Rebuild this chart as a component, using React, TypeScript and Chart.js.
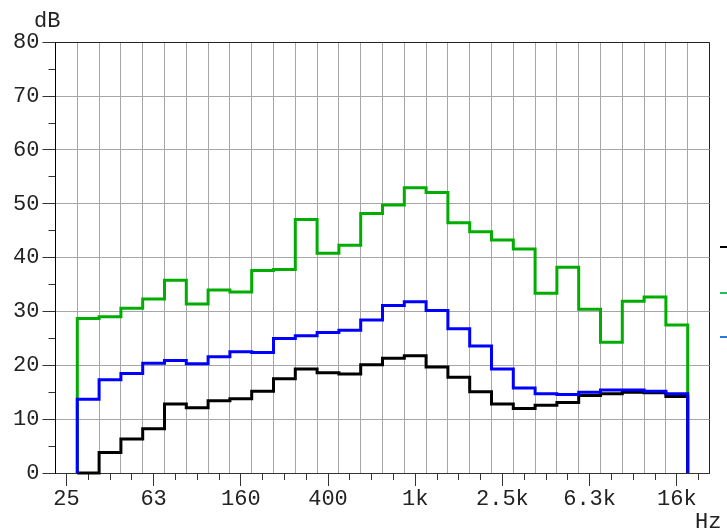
import React, { useEffect, useRef } from 'react';
import { Chart, registerables } from 'chart.js';

Chart.register(...registerables);

// One-third-octave band centre frequencies (x categories)
const bandLabels = ['25', '31.5', '40', '50', '63', '80', '100', '125', '160', '200', '250', '315', '400', '500', '630', '800', '1k', '1.25k', '1.6k', '2k', '2.5k', '3.15k', '4k', '5k', '6.3k', '8k', '10k', '12.5k', '16k', '20k'];
const xTickLabels = ['25', '63', '160', '400', '1k', '2.5k', '6.3k', '16k'];
const yMajorTicks = [0, 10, 20, 30, 40, 50, 60, 70, 80];
const yMinorTicks = [5, 15, 25, 35, 45, 55, 65, 75];
const firstBand = '31.5';

// Levels (dB) for bands 31.5 Hz .. 16 kHz
const greenValues = [28.7, 29.0, 30.6, 32.3, 35.8, 31.4, 34.0, 33.6, 37.6, 37.8, 47.1, 40.8, 42.3, 48.2, 49.8, 53.0, 52.1, 46.5, 44.8, 43.3, 41.6, 33.4, 38.2, 30.4, 24.3, 31.9, 32.7, 27.5];
const blueValues = [13.7, 17.3, 18.5, 20.4, 20.9, 20.3, 21.6, 22.5, 22.4, 25.0, 25.5, 26.1, 26.5, 28.4, 31.1, 31.8, 30.2, 26.8, 23.6, 19.3, 15.8, 14.7, 14.6, 15.0, 15.4, 15.4, 15.2, 14.7];
const blackValues = [0, 3.8, 6.3, 8.2, 12.8, 12.1, 13.4, 13.8, 15.2, 17.5, 19.3, 18.6, 18.4, 20.1, 21.3, 21.8, 19.7, 17.8, 15.1, 12.8, 12.0, 12.6, 13.1, 14.4, 14.7, 15.0, 14.9, 14.2];

const seriesNames = ['Series 1', 'Series 2', 'Series 3'];

const FONT = "'Liberation Mono', 'Courier New', monospace";

function stepPoints(values: number[]) {
  const start = bandLabels.indexOf(firstBand);
  const pts: { x: number; y: number }[] = [{ x: start - 0.5, y: 0 }];
  values.forEach((v, i) => {
    pts.push({ x: start + i - 0.5, y: v });
    pts.push({ x: start + i + 0.5, y: v });
  });
  pts.push({ x: start + values.length - 0.5, y: 0 });
  return pts;
}

const decorPlugin = {
  id: 'decor',
  afterDraw(chart: any) {
    const ctx = chart.ctx;
    ctx.save();
    ctx.fillStyle = '#222';
    ctx.font = `22px ${FONT}`;
    ctx.textBaseline = 'alphabetic';
    ctx.textAlign = 'left';
    ctx.fillText('dB', 34, 27);
    ctx.fillText('Hz', 695, 528);
    const legend = [
      { color: '#000000', y: 247, name: seriesNames[0] },
      { color: '#22c05a', y: 293, name: seriesNames[1] },
      { color: '#2a7ad6', y: 337, name: seriesNames[2] },
    ];
    legend.forEach((l) => {
      ctx.strokeStyle = l.color;
      ctx.lineWidth = 2;
      ctx.beginPath();
      ctx.moveTo(720, l.y);
      ctx.lineTo(740, l.y);
      ctx.stroke();
      ctx.fillStyle = '#222';
      ctx.fillText(l.name, 745, l.y + 7);
    });
    ctx.restore();
  },
};

export default function App() {
  const ref = useRef<HTMLCanvasElement>(null);
  useEffect(() => {
    const xMin = -0.5;
    const xMax = bandLabels.length - 0.5;
    const edgeTicks = bandLabels.map((_, i) => i - 0.5).concat([xMax]);
    const centerTicks = bandLabels.map((_, i) => i);
    const labelTicks = xTickLabels.map((l) => bandLabels.indexOf(l));
    const chart = new Chart(ref.current!, {
      type: 'line',
      data: {
        datasets: [
          { label: seriesNames[2], data: stepPoints(blueValues), borderColor: '#0000ff', borderWidth: 3, pointRadius: 0, fill: false, clip: false as any },
          { label: seriesNames[0], data: stepPoints(blackValues), borderColor: '#000000', borderWidth: 3, pointRadius: 0, fill: false, clip: false as any },
          { label: seriesNames[1], data: stepPoints(greenValues), borderColor: '#00ad00', borderWidth: 3, pointRadius: 0, fill: false, clip: false as any },
        ],
      },
      options: {
        responsive: false,
        animation: false,
        devicePixelRatio: 1,
        layout: { padding: { top: 42.3, right: 17.5, left: 0, bottom: 0 } },
        plugins: { legend: { display: false }, tooltip: { enabled: false } },
        elements: { line: { tension: 0, borderJoinStyle: 'miter', borderCapStyle: 'butt' } },
        scales: {
          x: {
            type: 'linear', position: 'bottom', min: xMin, max: xMax, weight: 1,
            afterBuildTicks: (s: any) => { s.ticks = labelTicks.map((v) => ({ value: v })); },
            afterFit: (s: any) => { s.height = 58; },
            grid: { drawOnChartArea: false, tickLength: 13, tickColor: '#333', tickWidth: 1 },
            border: { display: true, color: '#333', width: 1 },
            ticks: {
              autoSkip: false, maxRotation: 0, padding: 0, color: '#222',
              font: { family: FONT, size: 22 },
              callback: (_v: any, i: number) => xTickLabels[i],
            },
          },
          xMinor: {
            type: 'linear', axis: 'x', position: 'bottom', min: xMin, max: xMax, weight: 0,
            afterBuildTicks: (s: any) => { s.ticks = centerTicks.map((v) => ({ value: v })); },
            afterFit: (s: any) => { s.height = 0; },
            grid: { drawOnChartArea: false, tickLength: 7, tickColor: '#333', tickWidth: 1 },
            border: { display: false },
            ticks: { display: false },
          },
          xGrid: {
            type: 'linear', axis: 'x', position: 'bottom', min: xMin, max: xMax, weight: 0,
            afterBuildTicks: (s: any) => { s.ticks = edgeTicks.map((v) => ({ value: v })); },
            afterFit: (s: any) => { s.height = 0; },
            grid: {
              drawTicks: false,
              color: (c: any) => (c.tick && c.tick.value === xMax ? '#222' : '#a6a6a6'),
              lineWidth: 1,
            },
            border: { display: false },
            ticks: { display: false },
          },
          y: {
            type: 'linear', position: 'left', min: 0, max: 80, weight: 1,
            afterBuildTicks: (s: any) => { s.ticks = yMajorTicks.map((v) => ({ value: v })); },
            afterFit: (s: any) => { s.width = 55.5; },
            grid: {
              color: (c: any) => (c.tick && (c.tick.value === 80 || c.tick.value === 0) ? '#222' : '#a6a6a6'),
              tickColor: '#333', tickLength: 13, lineWidth: 1,
            },
            border: { display: true, color: '#000', width: 1 },
            ticks: { padding: 3, color: '#222', font: { family: FONT, size: 22 } },
          },
          yMinor: {
            type: 'linear', axis: 'y', position: 'left', min: 0, max: 80, weight: 0,
            afterBuildTicks: (s: any) => { s.ticks = yMinorTicks.map((v) => ({ value: v })); },
            afterFit: (s: any) => { s.width = 0; },
            grid: { drawOnChartArea: false, tickLength: 7, tickColor: '#333', tickWidth: 1 },
            border: { display: false },
            ticks: { display: false },
          },
        },
      } as any,
      plugins: [decorPlugin],
    });
    return () => chart.destroy();
  }, []);
  return (
    <div style={{ position: 'fixed', left: 0, top: 0, width: 727, height: 531, background: '#fff' }}>
      <canvas ref={ref} width={727} height={531} style={{ display: 'block', width: 727, height: 531 }} />
    </div>
  );
}
